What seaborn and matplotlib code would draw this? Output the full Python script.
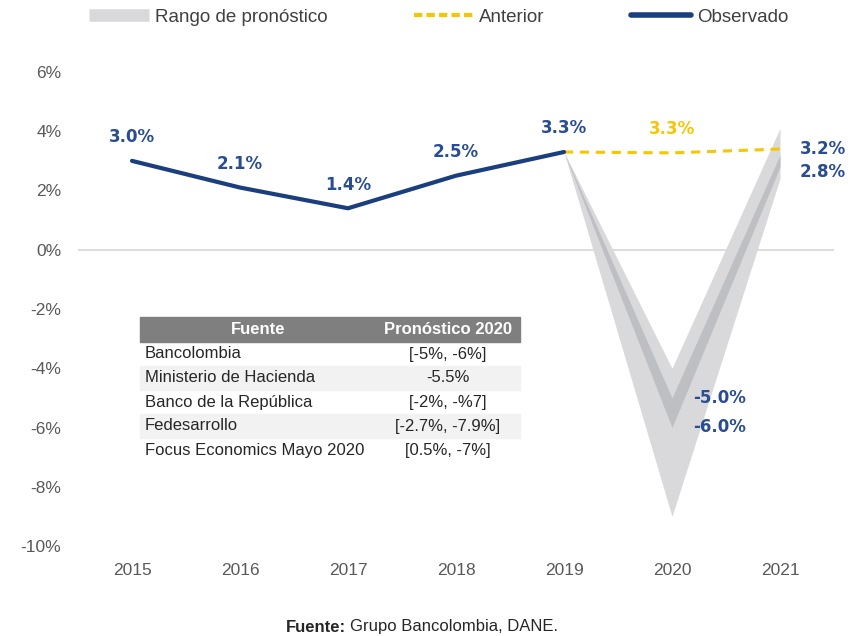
import matplotlib
matplotlib.use("Agg")
import matplotlib.pyplot as plt
import seaborn as sns
import pandas as pd
from matplotlib.lines import Line2D
from matplotlib.patches import Rectangle

# ---------------- data ----------------
years_obs = [2015, 2016, 2017, 2018, 2019]
observed = [3.0, 2.1, 1.4, 2.5, 3.3]

years_fc = [2019, 2020, 2021]
anterior = [3.3, 3.27, 3.4]
range_high = [3.3, -4.0, 4.1]
range_low = [3.3, -9.0, 2.4]
central_high = [3.3, -5.0, 3.2]
central_low = [3.3, -6.0, 2.8]

all_years = [2015, 2016, 2017, 2018, 2019, 2020, 2021]
y_ticks = [6, 4, 2, 0, -2, -4, -6, -8, -10]

table_header = ["Fuente", "Pronóstico 2020"]
table_sources = ["Bancolombia", "Ministerio de Hacienda", "Banco de la República",
                 "Fedesarrollo", "Focus Economics Mayo 2020"]
table_values = ["[-5%, -6%]", "-5.5%", "[-2%, -%7]", "[-2.7%, -7.9%]", "[0.5%, -7%]"]

legend_labels = ["Rango de pronóstico", "Anterior", "Observado"]
footer_bold = "Fuente:"
footer_rest = "Grupo Bancolombia, DANE."

# ---------------- style ----------------
sns.set_theme(style="white")
plt.rcParams["font.family"] = ["Liberation Sans", "DejaVu Sans"]

NAVY = "#1B3F7E"
LABEL_BLUE = "#2A4C92"
YELLOW = "#F7C600"
LIGHT = "#D9D9DB"
DARK = "#BEBFC3"
TICK = "#595959"

W, H = 850, 636
fig = plt.figure(figsize=(W / 100, H / 100), dpi=100)
ax = fig.add_axes([78 / W, 90 / H, 756 / W, 474 / H])

# forecast bands
ax.fill_between(years_fc, range_low, range_high, color=LIGHT, lw=0, zorder=1)
ax.fill_between(years_fc, central_low, central_high, color=DARK, lw=0, zorder=2)

ax.axhline(0, color="#D9D9D9", lw=1.3, zorder=0.5)

df_obs = pd.DataFrame({"year": years_obs, "value": observed})
df_ant = pd.DataFrame({"year": years_fc, "value": anterior})
sns.lineplot(data=df_ant, x="year", y="value", ax=ax, color=YELLOW, lw=2.2,
             linestyle=(0, (3, 2.2)), zorder=3)
sns.lineplot(data=df_obs, x="year", y="value", ax=ax, color=NAVY, lw=3.0,
             zorder=4, solid_capstyle="round")

ax.set_xlim(2014.5, 2021.5)
ax.set_ylim(-10, 6)
ax.set_xticks(all_years)
ax.set_xticklabels([str(y) for y in all_years])
ax.set_yticks(y_ticks)
ax.set_yticklabels([f"{t}%" for t in y_ticks])
ax.set_xlabel("")
ax.set_ylabel("")
for s in ax.spines.values():
    s.set_visible(False)
ax.tick_params(axis="both", length=0, labelsize=12.5, colors=TICK)
ax.tick_params(axis="y", pad=12)
ax.tick_params(axis="x", pad=12)
ax.grid(False)

lab_kw = dict(fontsize=12, fontweight="bold", family=["DejaVu Sans"],
              ha="center", va="center", textcoords="offset points",
              annotation_clip=False)
for x, v in zip(years_obs, observed):
    ax.annotate(f"{v:.1f}%", (x, v), xytext=(0, 17), color=LABEL_BLUE, **lab_kw)
ax.annotate(f"{anterior[1]:.1f}%", (years_fc[1], anterior[1]), xytext=(0, 17),
            color=YELLOW, **lab_kw)
ax.annotate(f"{central_high[2]:.1f}%", (years_fc[2], central_high[2]), xytext=(31, 4),
            color=LABEL_BLUE, **lab_kw)
ax.annotate(f"{central_low[2]:.1f}%", (years_fc[2], central_low[2]), xytext=(31, -4),
            color=LABEL_BLUE, **lab_kw)
ax.annotate(f"{central_high[1]:.1f}%", (years_fc[1], central_high[1]), xytext=(34, 0),
            color=LABEL_BLUE, **lab_kw)
ax.annotate(f"{central_low[1]:.1f}%", (years_fc[1], central_low[1]), xytext=(34, 0),
            color=LABEL_BLUE, **lab_kw)

# legend
handles = [Line2D([], [], color=LIGHT, lw=9, solid_capstyle="butt"),
           Line2D([], [], color=YELLOW, lw=3, linestyle=(0, (2, 1))),
           Line2D([], [], color=NAVY, lw=4, solid_capstyle="round")]
fig.legend(handles, legend_labels, loc="center", bbox_to_anchor=(0.516, 1 - 17 / H),
           ncol=3, frameon=False, fontsize=13.5, handlelength=3.2, handletextpad=0.3,
           columnspacing=4.6, labelcolor="#404040")

# table (pixel layout -> figure fraction)
def fx(px):
    return px / W

def fy(py):
    return 1 - py / H

tx0, tx1, tcol = 140, 520, 448
fig.patches.append(Rectangle((fx(tx0), fy(342)), fx(tx1) - fx(tx0), fy(317) - fy(342),
                             transform=fig.transFigure, color="#7F7F7F", zorder=5))
fig.text(fx(258), fy(329.5), table_header[0], ha="center", va="center", color="white",
         fontsize=12, fontweight="bold", zorder=6)
fig.text(fx(tcol), fy(329.5), table_header[1], ha="center", va="center", color="white",
         fontsize=12, fontweight="bold", zorder=6)
for i, (src, val) in enumerate(zip(table_sources, table_values)):
    top = 342 + 24 * i
    if i % 2 == 1:
        fig.patches.append(Rectangle((fx(tx0), fy(top + 24)), fx(tx1) - fx(tx0),
                                     fy(top) - fy(top + 24), transform=fig.transFigure,
                                     color="#F2F2F2", zorder=5))
    fig.text(fx(145), fy(top + 12), src, ha="left", va="center", color="#262626",
             fontsize=12, zorder=6)
    fig.text(fx(tcol), fy(top + 12), val, ha="center", va="center", color="#262626",
             fontsize=12, zorder=6)

# footer
fig.text(fx(346), fy(627), footer_bold, ha="right", va="center", fontsize=12,
         fontweight="bold", color="#262626")
fig.text(fx(350), fy(627), footer_rest, ha="left", va="center", fontsize=12,
         color="#262626")

fig.savefig("out.png", dpi=100)
